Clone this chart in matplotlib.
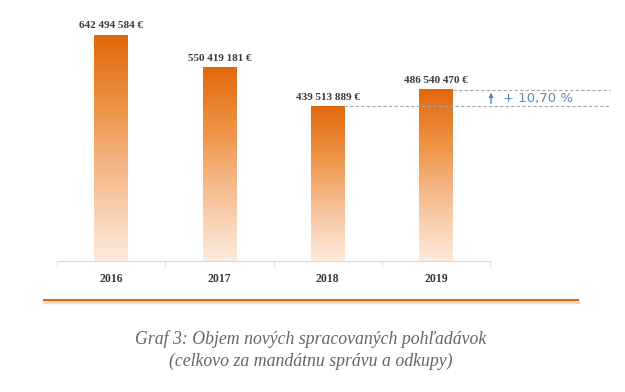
import matplotlib
matplotlib.use("Agg")
import matplotlib.pyplot as plt
import numpy as np
from matplotlib.colors import LinearSegmentedColormap
from matplotlib.lines import Line2D

years = ["2016", "2017", "2018", "2019"]
values = [642494584, 550419181, 439513889, 486540470]
value_labels = ["642 494 584 €", "550 419 181 €", "439 513 889 €", "486 540 470 €"]
change_label = "+ 10,70 %"
caption = "Graf 3: Objem nových spracovaných pohľadávok\n(celkovo za mandátnu správu a odkupy)"

W, H = 625, 392
fig = plt.figure(figsize=(W/100, H/100), dpi=100)
ax = fig.add_axes([57/W, 1-261/H, (490-57)/W, (261-10)/H])

cmap = LinearSegmentedColormap.from_list("g", ["#FDEBDD", "#F7C299", "#EE9548", "#E2680C"])
grad = np.linspace(0, 1, 256).reshape(-1, 1)
bw = 0.31
x = np.arange(len(years))
for xi, v in zip(x, values):
    ax.imshow(grad, extent=[xi-bw/2, xi+bw/2, 0, v], origin="lower", cmap=cmap, aspect="auto", zorder=2)

ymax = values[0] * 251/226
ax.set_xlim(-0.5, 3.5)
ax.set_ylim(0, ymax)

for xi, v, lab in zip(x, values, value_labels):
    ax.text(xi, v + ymax*0.018, lab, ha="center", va="bottom", fontsize=8, fontweight="bold",
            family="Liberation Serif", color="#3A3A3A")

for s in ["top", "right", "left"]:
    ax.spines[s].set_visible(False)
ax.spines["bottom"].set_color("#D9D9D9")
ax.set_yticks([])
ax.set_xticks(x)
ax.set_xticklabels(years, fontsize=8.5, fontweight="bold", family="Liberation Serif", color="#3A3A3A")
ax.tick_params(axis="x", length=0, pad=9)
ax.set_xticks(np.arange(-0.5, 4, 1), minor=True)
ax.tick_params(axis="x", which="minor", length=4, color="#D9D9D9")

# dashed reference lines
xend = (610-57)/((490-57)/4) - 0.5
ax.plot([3+bw/2, xend], [values[3]]*2, ls=(0, (3, 2)), color="#A6A6A6", lw=0.8, clip_on=False)
ax.plot([2+bw/2, xend], [values[2]]*2, ls=(0, (3, 2)), color="#A6A6A6", lw=0.8, clip_on=False)
xa = (491-57)/((490-57)/4) - 0.5
ax.annotate("", xy=(xa, values[3]), xytext=(xa, values[2]),
            arrowprops=dict(arrowstyle="-|>", color="#5B84B1", lw=1, mutation_scale=6),
            annotation_clip=False)
ax.text(xa + 0.11, (values[2]+values[3])/2, change_label, ha="left", va="center",
        fontsize=9.5, color="#5B8AB8", family="DejaVu Sans", clip_on=False)

# orange separator
fig.add_artist(Line2D([44/W, 578/W], [1-302/H]*2, color="#F8D9C0", lw=2.5))
fig.add_artist(Line2D([44/W, 578/W], [1-300/H]*2, color="#E2680C", lw=1.5))

fig.text(311/W, 1-350/H, caption, ha="center", va="center", fontsize=12.8, style="italic",
         family="Liberation Serif", color="#656565", linespacing=1.3)

fig.savefig("out.png", dpi=100)
